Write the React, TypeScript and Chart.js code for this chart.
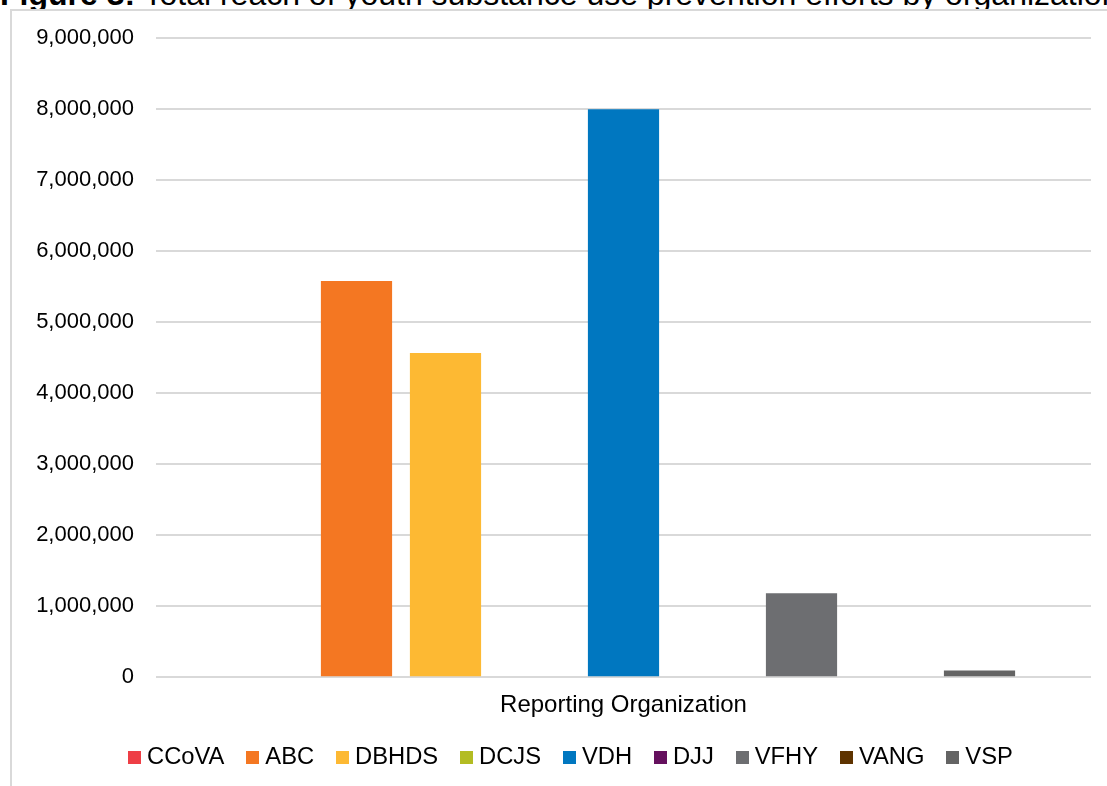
import React, { useEffect, useRef } from "react";
import { Chart, registerables } from "chart.js";

Chart.register(...registerables);

const categories: string[] = ["Reporting Organization"];
const organizations: string[] = ["CCoVA", "ABC", "DBHDS", "DCJS", "VDH", "DJJ", "VFHY", "VANG", "VSP"];
const reachValues: number[] = [0, 5575000, 4560000, 0, 7990000, 0, 1180000, 0, 95000];
const barColors: string[] = ["#EE3E45", "#F47722", "#FDB933", "#B3BC22", "#0077C0", "#65105E", "#6D6E71", "#5E3300", "#646464"];
const yTicks: number[] = [0, 1000000, 2000000, 3000000, 4000000, 5000000, 6000000, 7000000, 8000000, 9000000];

const FONT = "'Liberation Sans', Arial, Helvetica, sans-serif";

function makeSwatch(color: string): HTMLCanvasElement {
  const c = document.createElement("canvas");
  c.width = 13;
  c.height = 13;
  const ctx = c.getContext("2d");
  if (ctx) {
    ctx.fillStyle = color;
    ctx.fillRect(0, 0, 13, 13);
  }
  return c;
}

export default function App() {
  const canvasRef = useRef<HTMLCanvasElement | null>(null);

  useEffect(() => {
    const canvas = canvasRef.current;
    if (!canvas) return;
    const swatches = barColors.map(makeSwatch);
    const chart = new Chart(canvas, {
      type: "bar",
      data: {
        labels: categories,
        datasets: organizations.map((name, i) => ({
          label: name,
          data: [reachValues[i]],
          backgroundColor: barColors[i],
          borderWidth: 0,
          categoryPercentage: 0.8567,
          barPercentage: 0.8,
        })),
      },
      options: {
        responsive: false,
        animation: false,
        layout: { padding: { left: 7, right: 0, top: 26.5, bottom: 22 } },
        plugins: {
          title: { display: false },
          tooltip: { enabled: false },
          legend: {
            display: true,
            position: "bottom",
            labels: {
              usePointStyle: true,
              boxWidth: 1,
              boxHeight: 13,
              padding: 28,
              color: "#000",
              font: { family: FONT, size: 23.75 },
              generateLabels: (ch: any) => {
                const base = (Chart.defaults.plugins.legend.labels as any).generateLabels(ch);
                return base.map((item: any, i: number) => ({
                  ...item,
                  pointStyle: swatches[i],
                  fontColor: "#000",
                }));
              },
            },
          },
        },
        scales: {
          x: {
            grid: { display: false, drawTicks: false },
            border: { display: false },
            ticks: { color: "#000", padding: 14, font: { family: FONT, size: 24 } },
            afterFit: (scale: any) => {
              scale.height = 40;
            },
          },
          y: {
            min: 0,
            max: 9000000,
            afterBuildTicks: (scale: any) => {
              scale.ticks = yTicks.map((v) => ({ value: v }));
            },
            grid: { color: "#D9D9D9", lineWidth: 2, drawTicks: false },
            border: { display: false },
            ticks: {
              color: "#000",
              padding: 22,
              font: { family: FONT, size: 22 },
              callback: (v: any) => Number(v).toLocaleString("en-US"),
            },
            afterFit: (scale: any) => {
              scale.width = 137;
              scale.paddingTop = 0;
              scale.paddingBottom = 0;
            },
          },
          yRight: {
            position: "right",
            min: 0,
            max: 9000000,
            grid: { display: false, drawTicks: false },
            border: { display: false },
            ticks: { display: false },
            afterFit: (scale: any) => {
              scale.width = 37;
              scale.paddingTop = 0;
              scale.paddingBottom = 0;
            },
          },
        },
      },
    });
    return () => chart.destroy();
  }, []);

  return (
    <div style={{ position: "fixed", inset: 0, overflow: "hidden", background: "#fff" }}>
      <div
        style={{
          position: "absolute",
          left: 0,
          top: -22,
          fontFamily: FONT,
          fontSize: 32,
          lineHeight: "32px",
          whiteSpace: "nowrap",
          color: "#000",
        }}
      >
        <b>Figure 3:</b> Total reach of youth substance use prevention efforts by organization
      </div>
      <div
        style={{
          position: "absolute",
          left: 10,
          top: 9,
          width: 1116,
          height: 790,
          border: "2px solid #D9D9D9",
          background: "#fff",
        }}
      >
        <canvas ref={canvasRef} width={1116} height={790} style={{ display: "block" }} />
      </div>
    </div>
  );
}
